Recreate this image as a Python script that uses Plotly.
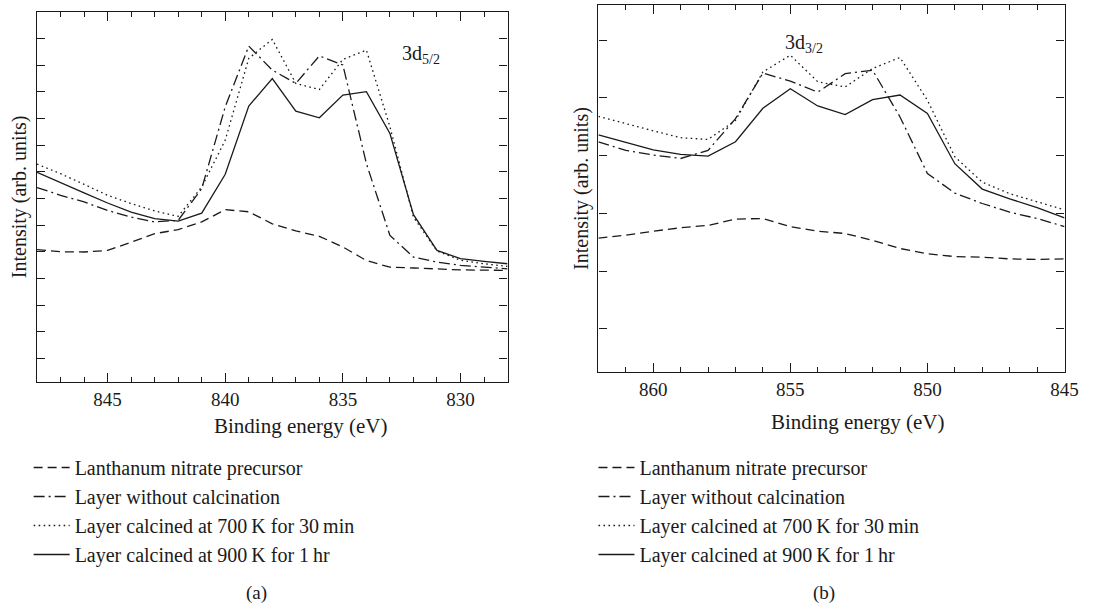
import plotly.graph_objects as go

# ---------------- data ----------------
series_names = [
    "Lanthanum nitrate precursor",
    "Layer without calcination",
    "Layer calcined at 700\u2009K for 30\u2009min",
    "Layer calcined at 900\u2009K for 1\u2009hr",
]

# panel (a): 3d5/2 region
left_energy = [848, 847, 846, 845, 844, 843, 842, 841, 840, 839, 838,
               837, 836, 835, 834, 833, 832, 831, 830, 829, 828]
left_precursor = [4.08, 4.00, 3.99, 4.05, 4.36, 4.68, 4.83, 5.12, 5.58, 5.50, 5.05,
                  4.78, 4.58, 4.18, 3.67, 3.42, 3.39, 3.35, 3.32, 3.31, 3.30]
left_uncalcined = [6.41, 6.12, 5.87, 5.55, 5.30, 5.12, 5.18, 6.37, 9.44, 11.72, 10.82,
                   10.32, 11.35, 11.01, 7.31, 4.61, 3.80, 3.61, 3.49, 3.42, 3.36]
left_700K = [7.29, 6.93, 6.53, 6.12, 5.81, 5.53, 5.33, 6.43, 8.19, 11.26, 11.97,
             10.32, 10.09, 11.22, 11.57, 8.69, 5.30, 4.03, 3.68, 3.55, 3.45]
left_900K = [6.98, 6.61, 6.21, 5.83, 5.49, 5.24, 5.15, 5.45, 6.91, 9.47, 10.50,
             9.28, 9.03, 9.88, 10.01, 8.44, 5.39, 4.05, 3.74, 3.64, 3.55]

# panel (b): 3d3/2 region
right_energy = [862, 861, 860, 859, 858, 857, 856, 855, 854, 853, 852,
                851, 850, 849, 848, 847, 846, 845]
right_precursor = [1.57, 1.62, 1.69, 1.75, 1.79, 1.90, 1.91, 1.77, 1.69, 1.65, 1.53,
                   1.39, 1.30, 1.25, 1.24, 1.21, 1.20, 1.21]
right_uncalcined = [3.24, 3.09, 3.01, 2.95, 3.09, 3.64, 4.43, 4.29, 4.10, 4.42, 4.48,
                    3.67, 2.69, 2.35, 2.17, 2.02, 1.91, 1.77]
right_700K = [3.68, 3.55, 3.43, 3.31, 3.28, 3.61, 4.45, 4.74, 4.28, 4.19, 4.51,
              4.70, 3.96, 2.98, 2.54, 2.34, 2.20, 2.06]
right_900K = [3.36, 3.23, 3.10, 3.02, 2.99, 3.24, 3.82, 4.16, 3.86, 3.71, 3.97,
              4.05, 3.73, 2.86, 2.42, 2.25, 2.10, 1.92]

left_xticks = [845, 840, 835, 830]
right_xticks = [860, 855, 850, 845]
left_yticks = list(range(0, 13))
right_yticks = list(range(0, 6))

x_title = "Binding energy (eV)"
y_title = "Intensity (arb. units)"

# ---------------- styling ----------------
FONT = "Liberation Serif, Times New Roman, serif"
INK = "#1a1a1a"
dashes = ["9px,5px", "11px,4px,2px,4px", "1.6px,3.4px", "solid"]
W = 1118
H = 608

fig = go.Figure()

left_sets = [left_precursor, left_uncalcined, left_700K, left_900K]
right_sets = [right_precursor, right_uncalcined, right_700K, right_900K]

for i, (name, ys) in enumerate(zip(series_names, left_sets)):
    fig.add_trace(go.Scatter(
        x=left_energy, y=ys, mode="lines", name=name,
        line=dict(color=INK, width=1.3, dash=dashes[i]),
        xaxis="x", yaxis="y", legend="legend", legendgroup=f"a{i}",
    ))
for i, (name, ys) in enumerate(zip(series_names, right_sets)):
    fig.add_trace(go.Scatter(
        x=right_energy, y=ys, mode="lines", name=name,
        line=dict(color=INK, width=1.3, dash=dashes[i]),
        xaxis="x2", yaxis="y2", legend="legend2", legendgroup=f"b{i}",
    ))


def px_x(p):
    return p / W


def px_y(p):
    return 1 - p / H


common_x = dict(
    showline=True, linecolor=INK, linewidth=1.3, mirror="ticks",
    ticks="inside", ticklen=9, tickwidth=1, tickcolor=INK,
    minor=dict(dtick=1, ticks="inside", ticklen=5, tickwidth=1, tickcolor=INK),
    showgrid=False, zeroline=False,
    tickfont=dict(family=FONT, size=19, color=INK),
)

common_y = dict(
    showline=True, linecolor=INK, linewidth=1.3, mirror="ticks",
    ticks="inside", ticklen=8, tickwidth=1, tickcolor=INK,
    showticklabels=False, showgrid=False, zeroline=False,
    title=dict(text=y_title, font=dict(family=FONT, size=20, color=INK), standoff=3),
)

legend_common = dict(
    xanchor="left", yanchor="top", bgcolor="rgba(0,0,0,0)",
    font=dict(family=FONT, size=20, color=INK),
    tracegroupgap=0, itemwidth=36, traceorder="grouped",
)

fig.update_layout(
    width=W, height=H,
    margin=dict(l=0, r=0, t=0, b=0),
    paper_bgcolor="white", plot_bgcolor="white",
    font=dict(family=FONT, size=20, color=INK),
    xaxis=dict(common_x, domain=[px_x(37.5), px_x(514)], range=[848, 828],
               tickvals=left_xticks, anchor="y"),
    yaxis=dict(common_y, domain=[px_y(381.7), px_y(12)], range=[-0.878, 13.0],
               tickvals=left_yticks, anchor="x"),
    xaxis2=dict(common_x, domain=[px_x(606), px_x(1078)], range=[862, 845],
                tickvals=right_xticks, anchor="y2"),
    yaxis2=dict(common_y, domain=[px_y(372), px_y(5)], range=[-0.75, 5.61],
                tickvals=right_yticks, anchor="x2"),
    legend=dict(legend_common, x=px_x(29), y=px_y(448)),
    legend2=dict(legend_common, x=px_x(601), y=px_y(448)),
    showlegend=True,
)

# x-axis titles (placed as the reference places them, slightly right of centre)
fig.add_annotation(x=px_x(304), y=px_y(426), xref="paper", yref="paper", text=x_title,
                   xanchor="center", yanchor="middle", showarrow=False,
                   font=dict(family=FONT, size=21, color=INK))
fig.add_annotation(x=px_x(868), y=px_y(422), xref="paper", yref="paper", text=x_title,
                   xanchor="center", yanchor="middle", showarrow=False,
                   font=dict(family=FONT, size=21, color=INK))

fig.add_annotation(x=831.7, y=11.39, xref="x", yref="y", text="3d<sub>5/2</sub>",
                   showarrow=False, font=dict(family=FONT, size=20, color=INK))
fig.add_annotation(x=854.5, y=4.94, xref="x2", yref="y2", text="3d<sub>3/2</sub>",
                   showarrow=False, font=dict(family=FONT, size=20, color=INK))
fig.add_annotation(x=px_x(260), y=px_y(593), xref="paper", yref="paper", text="(a)",
                   xanchor="center", yanchor="middle",
                   showarrow=False, font=dict(family=FONT, size=19, color=INK))
fig.add_annotation(x=px_x(834), y=px_y(593), xref="paper", yref="paper", text="(b)",
                   xanchor="center", yanchor="middle",
                   showarrow=False, font=dict(family=FONT, size=19, color=INK))

fig.write_html("out.html")
